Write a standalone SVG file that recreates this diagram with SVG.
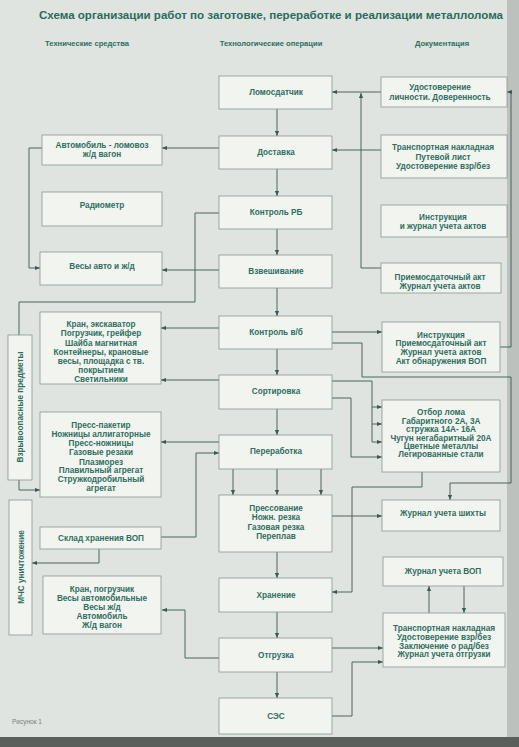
<svg xmlns="http://www.w3.org/2000/svg" width="519" height="747" viewBox="0 0 519 747">
<defs>
<marker id="ah" viewBox="0 0 6 6" refX="6" refY="3" markerWidth="6" markerHeight="5" markerUnits="userSpaceOnUse" orient="auto">
<path d="M0,0.5 L6,3 L0,5.5 Z" fill="#3b5a52"/>
</marker>
<style>
.bg{fill:#dfe4e0}
.box{fill:#f2f4f0;stroke:#8a9690;stroke-width:0.8}
.t{font-family:"Liberation Sans",Arial,sans-serif;font-weight:bold;font-size:8.2px;fill:#2e6f5f;text-anchor:middle}
.h{font-family:"Liberation Sans",Arial,sans-serif;font-weight:bold;font-size:7.6px;fill:#2e6f5f;text-anchor:middle}
.ttl{font-family:"Liberation Sans",Arial,sans-serif;font-weight:bold;font-size:11px;fill:#2a6b5c;text-anchor:middle}
.c{fill:none;stroke:#3b5a52;stroke-width:0.9}
.a{marker-end:url(#ah)}
</style>
</defs>
<rect class="bg" x="0" y="0" width="519" height="747"/>
<rect x="507" y="0" width="12" height="747" fill="#bcc1be"/>
<rect x="0" y="737" width="519" height="10" fill="#5a5f5c"/>

<text class="ttl" x="271" y="19" textLength="464" lengthAdjust="spacingAndGlyphs">Схема организации работ по заготовке, переработке и реализации металлолома</text>
<text class="h" x="87" y="46">Технические средства</text>
<text class="h" x="271" y="46">Технологические операции</text>
<text class="h" x="442" y="46">Документация</text>

<g id="connectors">
<path class="c a" d="M277,109 V136"/>
<path class="c a" d="M277,169 V196"/>
<path class="c a" d="M277,229 V255"/>
<path class="c a" d="M277,288 V316"/>
<path class="c a" d="M277,349 V375"/>
<path class="c a" d="M277,409 V435"/>
<path class="c a" d="M233,469 V495"/>
<path class="c a" d="M277,469 V495"/>
<path class="c a" d="M321,469 V495"/>
<path class="c a" d="M277,552 V578"/>
<path class="c a" d="M277,612 V638"/>
<path class="c a" d="M277,672 V698"/>

<path class="c a" d="M381,92 H332"/>
<path class="c a" d="M381,268 H361 V93"/>
<path class="c a" d="M381,150 H332"/>
<path class="c a" d="M500,347 H511 V92 H507"/>
<path class="c a" d="M332,332 H382"/>
<path class="c a" d="M332,343 H362 V377 H511 V483 H450 V500"/>
<path class="c a" d="M332,381 H372 V442 H382"/>
<path class="c a" d="M372,407 H382"/>
<path class="c a" d="M372,424 H382"/>
<path class="c a" d="M332,398 H351 V457 H382"/>
<path class="c a" d="M422,472 V487 H352 V592 H332"/>
<path class="c a" d="M332,516 H382"/>
<path class="c a" d="M429,613 V586"/>
<path class="c a" d="M464,586 V613"/>
<path class="c a" d="M332,648 H383"/>
<path class="c a" d="M332,716 H352 V662 H383"/>

<path class="c a" d="M219,148 H162"/>
<path class="c a" d="M42,148 H29 V268 H40"/>
<path class="c a" d="M219,270 H162"/>
<path class="c" d="M219,213 H195 V302 H19 V335"/>
<path class="c a" d="M219,328 H161"/>
<path class="c a" d="M219,380 H161"/>
<path class="c a" d="M219,442 H161"/>
<path class="c a" d="M19,480 V490 H40"/>
<path class="c a" d="M161,537 H196 V453 H219"/>
<path class="c a" d="M99,549 V563 H32"/>
<path class="c a" d="M219,658 H185 V610 H162"/>
</g>

<g id="lomosdatchik"><rect class="box" x="219" y="76" width="113" height="33"/><text class="t" x="276" y="95">Ломосдатчик</text></g>
<g id="dostavka"><rect class="box" x="219" y="136" width="113" height="33"/><text class="t" x="276" y="155">Доставка</text></g>
<g id="kontrol-rb"><rect class="box" x="219" y="196" width="113" height="33"/><text class="t" x="276" y="215">Контроль РБ</text></g>
<g id="vzveshivanie"><rect class="box" x="219" y="255" width="113" height="33"/><text class="t" x="276" y="274">Взвешивание</text></g>
<g id="kontrol-vb"><rect class="box" x="219" y="316" width="113" height="33"/><text class="t" x="276" y="335">Контроль в/б</text></g>
<g id="sortirovka"><rect class="box" x="219" y="375" width="113" height="34"/><text class="t" x="276" y="394">Сортировка</text></g>
<g id="pererabotka"><rect class="box" x="219" y="435" width="113" height="34"/><text class="t" x="276" y="454">Переработка</text></g>
<g id="pressovanie"><rect class="box" x="219" y="495" width="113" height="57"/>
<text class="t" x="276" y="511">Прессование</text><text class="t" x="276" y="520">Ножн. резка</text><text class="t" x="276" y="530">Газовая резка</text><text class="t" x="276" y="539">Переплав</text></g>
<g id="hranenie"><rect class="box" x="219" y="578" width="113" height="34"/><text class="t" x="276" y="598">Хранение</text></g>
<g id="otgruzka"><rect class="box" x="219" y="638" width="113" height="34"/><text class="t" x="276" y="658">Отгрузка</text></g>
<g id="ses"><rect class="box" x="219" y="698" width="113" height="36"/><text class="t" x="276" y="719">СЭС</text></g>

<g id="avtomobil"><rect class="box" x="42" y="135" width="120" height="30"/><text class="t" x="102" y="148">Автомобиль - ломовоз</text><text class="t" x="102" y="157">ж/д вагон</text></g>
<g id="radiometr"><rect class="box" x="42" y="192" width="120" height="34"/><text class="t" x="102" y="208">Радиометр</text></g>
<g id="vesy"><rect class="box" x="40" y="252" width="122" height="33"/><text class="t" x="102" y="269">Весы авто и ж/д</text></g>
<g id="kran"><rect class="box" x="40" y="312" width="121" height="72"/>
<text class="t" x="101" y="327">Кран, экскаватор</text><text class="t" x="101" y="336">Погрузчик, грейфер</text><text class="t" x="101" y="346">Шайба магнитная</text><text class="t" x="101" y="355">Контейнеры, крановые</text><text class="t" x="101" y="364">весы, площадка с тв.</text><text class="t" x="101" y="373">покрытием</text><text class="t" x="101" y="382">Светильники</text></g>
<g id="press"><rect class="box" x="40" y="412" width="121" height="85"/>
<text class="t" x="101" y="428">Пресс-пакетир</text><text class="t" x="101" y="437">Ножницы аллигаторные</text><text class="t" x="101" y="446">Пресс-ножницы</text><text class="t" x="101" y="455">Газовые резаки</text><text class="t" x="101" y="465">Плазморез</text><text class="t" x="101" y="473">Плавильный агрегат</text><text class="t" x="101" y="482">Стружкодробильный</text><text class="t" x="101" y="491">агрегат</text></g>
<g id="sklad"><rect class="box" x="40" y="527" width="121" height="22"/><text class="t" x="101" y="541">Склад хранения ВОП</text></g>
<g id="kran2"><rect class="box" x="43" y="576" width="118" height="58"/>
<text class="t" x="102" y="592">Кран, погрузчик</text><text class="t" x="102" y="601">Весы автомобильные</text><text class="t" x="102" y="610">Весы ж/д</text><text class="t" x="102" y="619">Автомобиль</text><text class="t" x="102" y="628">Ж/д вагон</text></g>
<g id="vzryv"><rect class="box" x="8" y="335" width="24" height="145"/><text class="t" transform="translate(23,407) rotate(-90)" x="0" y="0">Взрывоопасные предметы</text></g>
<g id="mchs"><rect class="box" x="9" y="500" width="23" height="135"/><text class="t" transform="translate(24,567) rotate(-90)" x="0" y="0">МЧС уничтожение</text></g>

<g id="udost"><rect class="box" x="381" y="77" width="126" height="30"/><text class="t" x="440" y="90">Удостоверение</text><text class="t" x="440" y="100">личности. Доверенность</text></g>
<g id="transp1"><rect class="box" x="381" y="135" width="126" height="43"/><text class="t" x="443" y="150">Транспортная накладная</text><text class="t" x="443" y="160">Путевой лист</text><text class="t" x="443" y="169">Удостоверение взр/без</text></g>
<g id="instr1"><rect class="box" x="381" y="205" width="126" height="32"/><text class="t" x="443" y="220">Инструкция</text><text class="t" x="443" y="229">и журнал учета актов</text></g>
<g id="priem"><rect class="box" x="381" y="263" width="120" height="30"/><text class="t" x="440" y="280">Приемосдаточный акт</text><text class="t" x="440" y="289">Журнал учета актов</text></g>
<g id="instr2"><rect class="box" x="382" y="322" width="118" height="50"/><text class="t" x="441" y="338">Инструкция</text><text class="t" x="441" y="346">Приемосдаточный акт</text><text class="t" x="441" y="355">Журнал учета актов</text><text class="t" x="441" y="364">Акт обнаружения ВОП</text></g>
<g id="otbor"><rect class="box" x="382" y="400" width="118" height="72"/><text class="t" x="441" y="415">Отбор лома</text><text class="t" x="441" y="424">Габаритного 2А, 3А</text><text class="t" x="441" y="432">стружка 14А- 16А</text><text class="t" x="441" y="441">Чугун негабаритный 20А</text><text class="t" x="441" y="449">Цветные металлы</text><text class="t" x="441" y="457">Легированные стали</text></g>
<g id="shikhta"><rect class="box" x="382" y="500" width="118" height="31"/><text class="t" x="443" y="516">Журнал учета шихты</text></g>
<g id="zhurnal-vop"><rect class="box" x="383" y="557" width="120" height="29"/><text class="t" x="443" y="574">Журнал учета ВОП</text></g>
<g id="transp2"><rect class="box" x="383" y="613" width="122" height="54"/><text class="t" x="444" y="631">Транспортная накладная</text><text class="t" x="444" y="640">Удостоверение взр/без</text><text class="t" x="444" y="649">Заключение о рад/без</text><text class="t" x="444" y="657">Журнал учета отгрузки</text></g>

<text x="12" y="724" font-family="Liberation Sans, Arial, sans-serif" font-size="6.5" fill="#7a807d">Рисунок 1</text>
</svg>
